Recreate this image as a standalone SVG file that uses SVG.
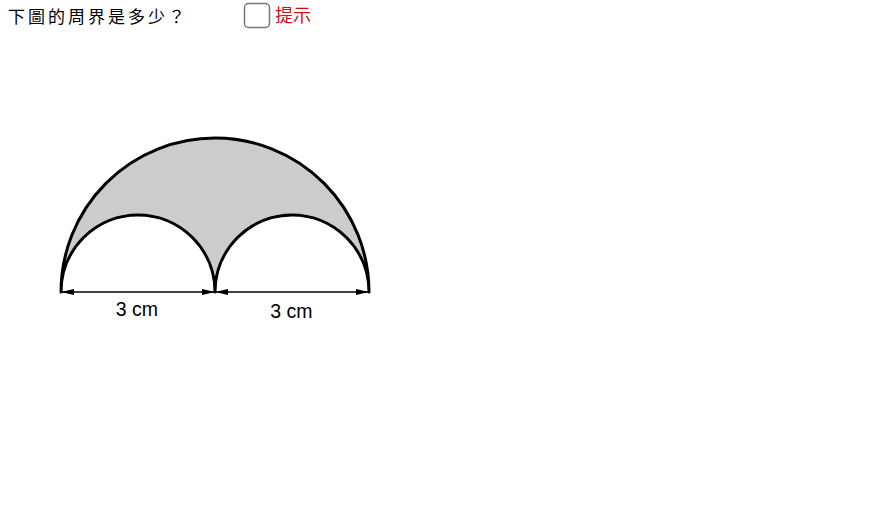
<svg xmlns="http://www.w3.org/2000/svg" width="891" height="530" viewBox="0 0 891 530">
  <style>
    .cjk { font-family: "Noto Sans CJK TC", "Noto Sans CJK SC", sans-serif; }
    .dim { font-family: "Liberation Sans", Arial, sans-serif; font-size: 19.5px; fill: #000; }
    .shape { stroke: #000; stroke-width: 3; stroke-linejoin: round; stroke-linecap: round; }
    .dimline { stroke: #000; stroke-width: 1.3; fill: none; marker-start: url(#arrow); marker-end: url(#arrow); }
  </style>
  <defs>
    <marker id="arrow" viewBox="0 0 13 6" refX="13" refY="3" markerWidth="13" markerHeight="6" markerUnits="userSpaceOnUse" orient="auto-start-reverse">
      <path d="M0,0 L13,3 L0,6 Z" fill="#000"/>
    </marker>
  </defs>
  <rect width="891" height="530" fill="#fff"/>

  <g id="question">
    <text class="cjk" x="8" y="23" font-size="17" letter-spacing="3" fill="#000">下圖的周界是多少？</text>
  </g>
  <g id="hint">
    <rect x="244.5" y="3.5" width="25" height="24" rx="4" fill="#fff" stroke="#777" stroke-width="1.5"/>
    <text class="cjk" x="275" y="22" font-size="18" fill="#cc1111">提示</text>
  </g>

  <g id="figure">
    <path class="shape" d="M61,292 A154,154 0 0 1 369,292 A77,77 0 0 0 215,292 A77,77 0 0 0 61,292 Z" fill="#cccccc"/>
  </g>

  <g id="connectors">
    <line class="dimline" x1="61" y1="292" x2="215" y2="292"/>
    <line class="dimline" x1="215" y1="292" x2="369" y2="292"/>
  </g>

  <g id="labels">
    <text class="dim" x="137" y="316" text-anchor="middle">3 cm</text>
    <text class="dim" x="291.5" y="318" text-anchor="middle">3 cm</text>
  </g>
</svg>
